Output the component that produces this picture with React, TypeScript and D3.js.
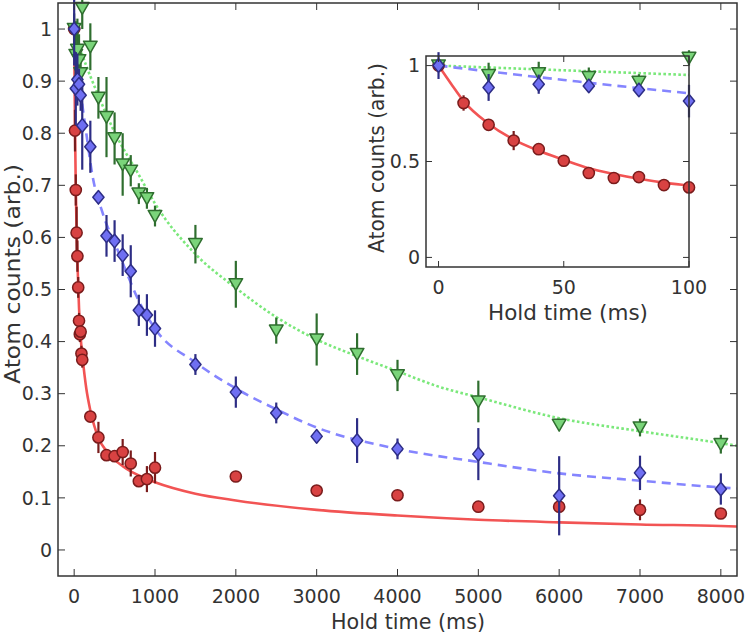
import * as d3 from 'd3'

// measured data (hold time in ms, normalised atom counts)
const redT = [0, 10, 20, 30, 40, 50, 60, 70, 80, 90, 100, 200, 300, 400, 500, 600, 700, 800, 900, 1000, 2000, 3000, 4000, 5000, 6000, 7000, 8000]
const redY = [1.0, 0.805, 0.691, 0.609, 0.564, 0.504, 0.44, 0.414, 0.419, 0.377, 0.365, 0.256, 0.216, 0.182, 0.18, 0.188, 0.166, 0.132, 0.136, 0.158, 0.141, 0.114, 0.105, 0.083, 0.083, 0.077, 0.07]
const redErr = [0.02, 0.04, 0.03, 0.05, 0.03, 0.02, 0.015, 0.015, 0.015, 0.015, 0.015, 0.01, 0.03, 0.01, 0.01, 0.025, 0.025, 0.01, 0.025, 0.03, 0.01, 0.01, 0.01, 0.01, 0.01, 0.02, 0.01]

const blueT = [0, 20, 40, 60, 80, 100, 200, 300, 400, 500, 600, 700, 800, 900, 1000, 1500, 2000, 2500, 3000, 3500, 4000, 5000, 6000, 7000, 8000]
const blueY = [1.0, 0.886, 0.903, 0.894, 0.873, 0.815, 0.774, 0.677, 0.603, 0.593, 0.566, 0.535, 0.46, 0.451, 0.425, 0.356, 0.303, 0.263, 0.218, 0.21, 0.194, 0.184, 0.104, 0.148, 0.117]
const blueErr = [0.07, 0.07, 0.05, 0.03, 0.03, 0.085, 0.05, 0.01, 0.04, 0.04, 0.04, 0.05, 0.03, 0.04, 0.035, 0.02, 0.03, 0.02, 0.012, 0.043, 0.02, 0.05, 0.076, 0.033, 0.03]

const greenT = [0, 20, 40, 60, 80, 100, 200, 300, 400, 500, 600, 700, 800, 900, 1000, 1500, 2000, 2500, 3000, 3500, 4000, 5000, 6000, 7000, 8000]
const greenY = [1.0, 0.95, 0.96, 0.94, 0.915, 1.04, 0.966, 0.868, 0.831, 0.79, 0.74, 0.728, 0.684, 0.675, 0.641, 0.587, 0.51, 0.421, 0.404, 0.376, 0.335, 0.285, 0.24, 0.235, 0.203]
const greenErr = [0.03, 0.065, 0.06, 0.05, 0.04, 0.04, 0.045, 0.04, 0.077, 0.05, 0.06, 0.03, 0.02, 0.02, 0.02, 0.037, 0.045, 0.025, 0.05, 0.04, 0.03, 0.04, 0.01, 0.017, 0.018]

// fit curves
const redFitT = [0, 5, 10, 20, 30, 40, 50, 60, 70, 80, 90, 100, 150, 200, 300, 400, 500, 600, 700, 800, 900, 1000, 1500, 2000, 3000, 4000, 5000, 6000, 7000, 8000, 8200]
const redFitY = [1.0, 0.905, 0.815, 0.697, 0.614, 0.556, 0.509, 0.465, 0.435, 0.41, 0.39, 0.375, 0.31, 0.268, 0.215, 0.19, 0.173, 0.161, 0.151, 0.143, 0.136, 0.13, 0.108, 0.095, 0.077, 0.066, 0.058, 0.053, 0.049, 0.046, 0.045]
const blueFitT = [0, 50, 100, 150, 225, 350, 550, 650, 800, 1000, 1500, 2000, 2500, 3000, 4000, 5000, 6000, 7000, 8000, 8200]
const blueFitY = [1.0, 0.925, 0.856, 0.8, 0.72, 0.648, 0.571, 0.532, 0.478, 0.425, 0.36, 0.31, 0.27, 0.235, 0.194, 0.169, 0.147, 0.133, 0.12, 0.118]
const greenFitT = [0, 100, 300, 500, 800, 1000, 1500, 2000, 2500, 3000, 3500, 4000, 4500, 5000, 6000, 7000, 8000, 8200]
const greenFitY = [1.0, 0.951, 0.872, 0.802, 0.72, 0.665, 0.568, 0.503, 0.447, 0.404, 0.372, 0.343, 0.314, 0.293, 0.253, 0.228, 0.205, 0.2]

const mainXTicks = [0, 1000, 2000, 3000, 4000, 5000, 6000, 7000, 8000]
const mainYTicks = [0, 0.1, 0.2, 0.3, 0.4, 0.5, 0.6, 0.7, 0.8, 0.9, 1]
const insetXTicks = [0, 50, 100]
const insetYTicks = [0, 0.5, 1]

const FONT = 'DejaVu Sans, Verdana, sans-serif'
const INK = '#333'

const RED = { fill: '#d84242', stroke: '#7a1c1c', line: '#f25454' }
const BLUE = { fill: '#6f6ff2', stroke: '#2d2d85', line: '#8585ff' }
const GREEN = { fill: '#7ad47a', stroke: '#2f6e2f', line: '#7be87b' }

type Pt = { t: number; v: number; e?: number }
const zip = (t: number[], v: number[], e?: number[]): Pt[] => t.map((d, i) => ({ t: d, v: v[i], e: e ? e[i] : 0 }))

const circle = 'M5.6,0A5.6,5.6 0 1,1 -5.6,0A5.6,5.6 0 1,1 5.6,0Z'
const diamond = 'M0,-6.8L5.6,0L0,6.8L-5.6,0Z'
const triDown = 'M-6.8,-5.6L6.8,-5.6L0,6.2Z'

function Series({ pts, x, y, c, shape }: any) {
  return (
    <g>
      {pts.map((p: Pt, i: number) => (
        <line key={'e' + i} x1={x(p.t)} x2={x(p.t)} y1={y(p.v - (p.e || 0))} y2={y(p.v + (p.e || 0))}
          stroke={c.stroke} strokeWidth={2.2} />
      ))}
      {pts.map((p: Pt, i: number) => (
        <path key={'m' + i} d={shape} transform={`translate(${x(p.t)},${y(p.v)})`}
          fill={c.fill} stroke={c.stroke} strokeWidth={1.5} strokeLinejoin="round" />
      ))}
    </g>
  )
}

function Panel({ id, x, y, xTicks, yTicks, xFmt, yFmt, tMax, tick }: any) {
  const [x0, x1] = x.range()
  const [y0, y1] = y.range()
  const line = d3.line<Pt>().x(d => x(d.t)).y(d => y(d.v)).curve(d3.curveMonotoneX)
  const keep = (p: Pt[]) => p.filter(d => d.t <= tMax)
  const fits = [
    { d: zip(redFitT, redFitY), c: RED.line, dash: undefined },
    { d: zip(greenFitT, greenFitY), c: GREEN.line, dash: '2.6,2.4' },
    { d: zip(blueFitT, blueFitY), c: BLUE.line, dash: '9,6' },
  ]
  return (
    <g>
      <rect x={x0} y={y1} width={x1 - x0} height={y0 - y1} fill="#fff" />
      <clipPath id={id}>
        <rect x={x0} y={y1} width={x1 - x0} height={y0 - y1} />
      </clipPath>
      <g clipPath={`url(#${id})`}>
        {fits.map((f, i) => (
          <path key={i} d={line(f.d.filter(p => p.t <= tMax * 1.6)) || ''} fill="none" stroke={f.c}
            strokeWidth={2.6} strokeDasharray={f.dash} />
        ))}
      </g>
      <Series pts={keep(zip(redT, redY, redErr))} x={x} y={y} c={RED} shape={circle} />
      <Series pts={keep(zip(greenT, greenY, greenErr))} x={x} y={y} c={GREEN} shape={triDown} />
      <Series pts={keep(zip(blueT, blueY, blueErr))} x={x} y={y} c={BLUE} shape={diamond} />
      <rect x={x0} y={y1} width={x1 - x0} height={y0 - y1} fill="none" stroke={INK} strokeWidth={1.5} />
      {xTicks.map((t: number) => (
        <g key={'x' + t}>
          <line x1={x(t)} x2={x(t)} y1={y0} y2={y0 - tick} stroke={INK} />
          <line x1={x(t)} x2={x(t)} y1={y1} y2={y1 + tick} stroke={INK} />
        </g>
      ))}
      {yTicks.map((t: number) => (
        <g key={'y' + t}>
          <line x1={x0} x2={x0 + tick} y1={y(t)} y2={y(t)} stroke={INK} />
          <line x1={x1} x2={x1 - tick} y1={y(t)} y2={y(t)} stroke={INK} />
        </g>
      ))}
      <g fontFamily={FONT} fontSize={19} fill={INK}>
        {xTicks.map((t: number) => (
          <text key={'xl' + t} x={x(t)} y={y0 + 27} textAnchor="middle">{xFmt(t)}</text>
        ))}
        {yTicks.map((t: number) => (
          <text key={'yl' + t} x={x0 - 6} y={y(t)} dy="0.35em" textAnchor="end">{yFmt(t)}</text>
        ))}
      </g>
    </g>
  )
}

export default function App() {
  const width = 748
  const height = 634

  const x = d3.scaleLinear().domain([-200, 8200]).range([58, 737])
  const y = d3.scaleLinear().domain([-0.05, 1.05]).range([576, 3])
  const xi = d3.scaleLinear().domain([-5, 100]).range([426, 689])
  const yi = d3.scaleLinear().domain([-0.05, 1.05]).range([267, 56])
  const fmt = (v: number) => d3.format('~g')(v)

  return (
    <svg width={width} height={height} style={{ position: 'absolute', left: 0, top: 0, background: '#fff' }}>
      <Panel id="clipMain" x={x} y={y} xTicks={mainXTicks} yTicks={mainYTicks} xFmt={fmt} yFmt={fmt} tMax={9000} tick={7} />
      <text x={408} y={629} textAnchor="middle" fontFamily={FONT} fontSize={20.5} fill={INK}
        textLength={154} lengthAdjust="spacingAndGlyphs">Hold time (ms)</text>
      <text transform="translate(20,274) rotate(-90)" textAnchor="middle" fontFamily={FONT} fontSize={20.5} fill={INK}
        textLength={220} lengthAdjust="spacingAndGlyphs">Atom counts (arb.)</text>

      <Panel id="clipInset" x={xi} y={yi} xTicks={insetXTicks} yTicks={insetYTicks} xFmt={fmt} yFmt={fmt} tMax={100} tick={6} />
      <text x={568} y={320} textAnchor="middle" fontFamily={FONT} fontSize={20.5} fill={INK}
        textLength={160} lengthAdjust="spacingAndGlyphs">Hold time (ms)</text>
      <text transform="translate(384,158) rotate(-90)" textAnchor="middle" fontFamily={FONT} fontSize={20.5} fill={INK}
        textLength={190} lengthAdjust="spacingAndGlyphs">Atom counts (arb.)</text>
    </svg>
  )
}
